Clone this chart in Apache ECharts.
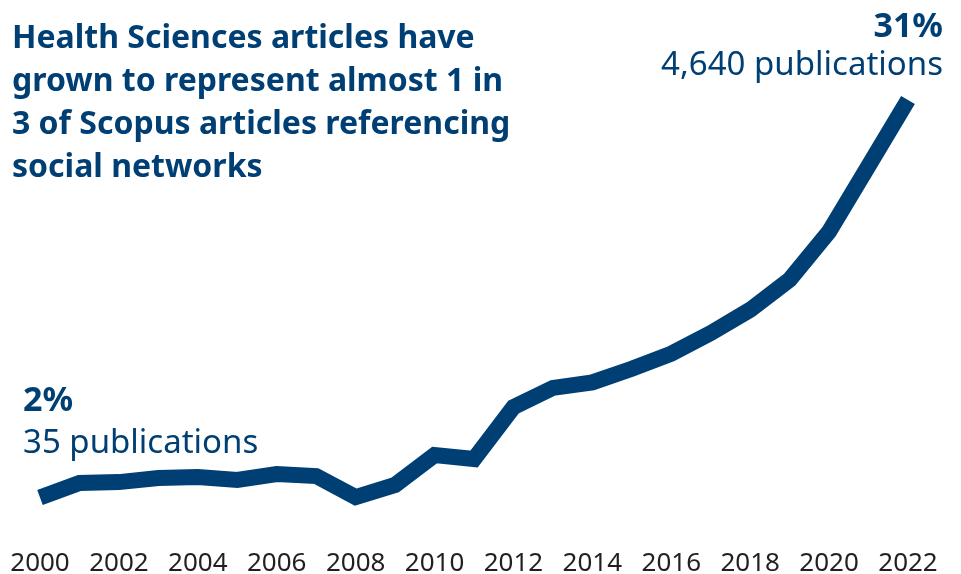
<!DOCTYPE html>
<html>
<head>
<meta charset="utf-8">
<script src="https://cdn.jsdelivr.net/npm/echarts@6/dist/echarts.min.js"></script>
<style>
    html, body { margin: 0; padding: 0; background: #fff; }
    #container { width: 961px; height: 574px; }
</style>
</head>
<body>
<div id="container"></div>
<script>
// share of Scopus social-network articles from Health Sciences (%)
var years = ['2000', '2001', '2002', '2003', '2004', '2005', '2006', '2007', '2008', '2009', '2010',
    '2011', '2012', '2013', '2014', '2015', '2016', '2017', '2018', '2019', '2020', '2021', '2022'];
var sharePct = [2.0, 3.06, 3.13, 3.43, 3.5, 3.28, 3.72, 3.57, 2.04, 2.92, 5.1,
    4.81, 8.6, 10.0, 10.4, 11.4, 12.5, 14.0, 15.7, 17.9, 21.4, 26.2, 31.0];
var titleLines = ['Health Sciences articles have', 'grown to represent almost 1 in',
    '3 of Scopus articles referencing', 'social networks'];
var startNote = ['2%', '35 publications'];
var endNote = ['31%', '4,640 publications'];

var blue = '#003f73';
var font = '"Noto Sans"';

var chart = echarts.init(document.getElementById('container'));

function note(x, y, txt, weight, size, align) {
    return {
        type: 'text', x: x, y: y,
        style: {
            text: txt,
            fill: blue,
            font: weight + ' ' + size + 'px ' + font,
            align: align,
            verticalAlign: 'middle'
        }
    };
}

var option = {
    animation: false,
    backgroundColor: '#fff',
    grid: { left: 40, right: 53, top: 100, bottom: 49, containLabel: false, outerBoundsMode: 'none' },
    xAxis: {
        type: 'category',
        data: years,
        boundaryGap: false,
        axisLine: { show: false },
        axisTick: { show: false },
        axisLabel: {
            interval: 1,
            margin: 26,
            color: '#231f20',
            fontFamily: font,
            fontSize: 26
        }
    },
    yAxis: {
        type: 'value',
        min: 0,
        max: 31,
        show: false,
        splitLine: { show: false }
    },
    series: [{
        type: 'line',
        data: sharePct,
        symbol: 'none',
        lineStyle: { color: blue, width: 16, join: 'miter' }
    }],
    graphic: [
        {
            type: 'text', x: 12, y: 17,
            style: {
                text: titleLines.join('\n'),
                fill: blue,
                font: 'bold 32px ' + font,
                lineHeight: 43,
                verticalAlign: 'top'
            }
        },
        note(23, 401, startNote[0], 'bold', 34, 'left'),
        note(23, 444, startNote[1], 'normal', 33, 'left'),
        note(943, 27, endNote[0], 'bold', 34, 'right'),
        note(943, 66, endNote[1], 'normal', 33, 'right')
    ]
};

chart.setOption(option);

window.onresize = function () {
    chart.resize();
};
</script>
</body>
</html>
